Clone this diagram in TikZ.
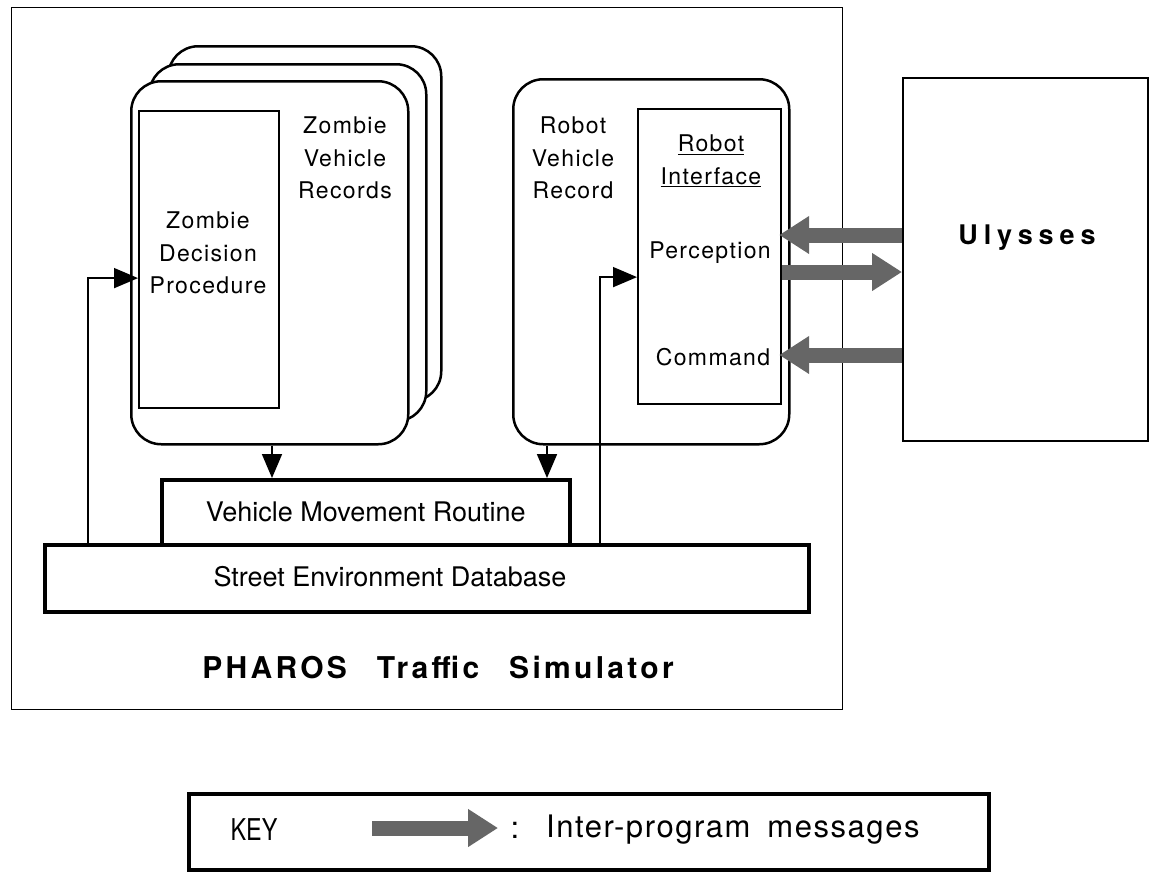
\documentclass[tikz,border=0pt]{standalone}
\usepackage{fontspec}
\setmainfont{TeX Gyre Heros}
\newfontfamily\spacedfont[LetterSpace=6]{TeX Gyre Heros}
\newfontfamily\titlefont[LetterSpace=11]{TeX Gyre Heros}
\newfontfamily\ulyfont[LetterSpace=22]{TeX Gyre Heros}
\newfontfamily\keyfont[FakeStretch=0.78]{TeX Gyre Heros}
\newfontfamily\legendfont[LetterSpace=5]{TeX Gyre Heros}
\usetikzlibrary{arrows.meta}
\tikzset{
  frame/.style={draw, line width=1.3pt, inner sep=0pt},
  plainbox/.style={draw, line width=2.2pt, fill=white, inner sep=0pt},
  card/.style={draw, line width=2.5pt, fill=white, rounded corners=30pt, inner sep=0pt},
  heavybox/.style={draw, line width=3.6pt, fill=white, inner sep=0pt},
  lbl/.style={align=center, inner sep=0pt, font=\spacedfont\fontsize{23}{32.5}\selectfont},
  biglbl/.style={inner sep=0pt, font=\fontsize{27}{32}\selectfont},
  conn/.style={line width=1.8pt, -{Triangle[length=24pt,width=20pt]}},
  fat/.style={line width=15pt, draw=black!60, -{Triangle[length=30pt,width=36pt]}},
}
\begin{document}
\begin{tikzpicture}[x=1pt,y=-1pt]
\useasboundingbox (0,0) rectangle (1149,873);
% outer simulator frame
\node[frame, anchor=north west, minimum width=831pt, minimum height=702pt] (pharos) at (11,7) {};
% zombie record stack
\node[card, anchor=north west, minimum width=273pt, minimum height=355pt] (zb3) at (167,45) {};
\node[card, anchor=north west, minimum width=277pt, minimum height=357pt] (zb2) at (148,63) {};
\node[card, anchor=north west, minimum width=277pt, minimum height=363pt] (zb1) at (130,80) {};
\node[plainbox, anchor=north west, minimum width=140pt, minimum height=297pt] (zdp) at (138,110) {};
\node[lbl] (zdpt) at (208,253) {Zombie\\Decision\\Procedure};
\node[lbl] (zvr) at (345,158) {Zombie\\Vehicle\\Records};
% robot record
\node[card, anchor=north west, minimum width=276pt, minimum height=365pt] (rvr) at (512,78) {};
\node[plainbox, anchor=north west, minimum width=143pt, minimum height=295pt] (ri) at (637,108) {};
\node[lbl] (rvrt) at (573,158) {Robot\\Vehicle\\Record};
\node[lbl] (rit) at (711,161) {\underline{Robot}\\\underline{Interface}};
\node[lbl] (perc) at (710,253) {Perception};
\node[lbl] (cmd) at (713,357) {Command};
% Ulysses
\node[plainbox, anchor=north west, minimum width=245pt, minimum height=363pt] (uly) at (902,77) {};
\node[inner sep=0pt, font=\ulyfont\bfseries\fontsize{27}{32}\selectfont] (ulyt) at (1027,238) {Ulysses};
% lower boxes
\node[heavybox, anchor=north west, minimum width=408pt, minimum height=65pt, biglbl] (vmr) at (160,478) {Vehicle Movement Routine};
\node[heavybox, anchor=north west, minimum width=764pt, minimum height=67pt] (sed) at (43,543) {};
\node[biglbl] (sedt) at (390,577) {Street Environment Database};
\node[inner sep=0pt, font=\titlefont\bfseries\fontsize{30}{34}\selectfont] (title) at (438,667) {PHAROS\hspace{1em}Traffic\hspace{1em}Simulator};
% thin connectors
\draw[conn] (88,0 |- sed.north) |- ([yshift=-18.5pt]zdp.west);
\draw[conn] (600,0 |- sed.north) |- ([yshift=-20.5pt]ri.west);
\draw[conn] (272,0 |- zb1.south) -- (272,0 |- vmr.north);
\draw[conn] (547,0 |- rvr.south) -- (547,0 |- vmr.north);
% inter-program messages
\draw[fat, shorten >=-3pt] (uly.west |- 0,235) -- (ri.east |- 0,235);
\draw[fat] (ri.east |- 0,272) -- (uly.west |- 0,272);
\draw[fat, shorten >=-3pt] (uly.west |- 0,355) -- (ri.east |- 0,355);
% key
\node[heavybox, anchor=north west, minimum width=800pt, minimum height=76pt] (key) at (187,792) {};
\node[inner sep=0pt, font=\keyfont\fontsize{30}{34}\selectfont] (keyt) at (254,830) {KEY};
\coordinate (ka) at (372,828);
\coordinate (kb) at (498,828);
\draw[fat] (ka) -- (kb);
\node[inner sep=0pt, font=\fontsize{31}{34}\selectfont] (colon) at (515,830) {:};
\node[inner sep=0pt, anchor=west, font=\legendfont\fontsize{31}{34}\selectfont] (keytxt) at (546,830) {Inter-program\hspace{0.55em}messages};
\end{tikzpicture}
\end{document}
